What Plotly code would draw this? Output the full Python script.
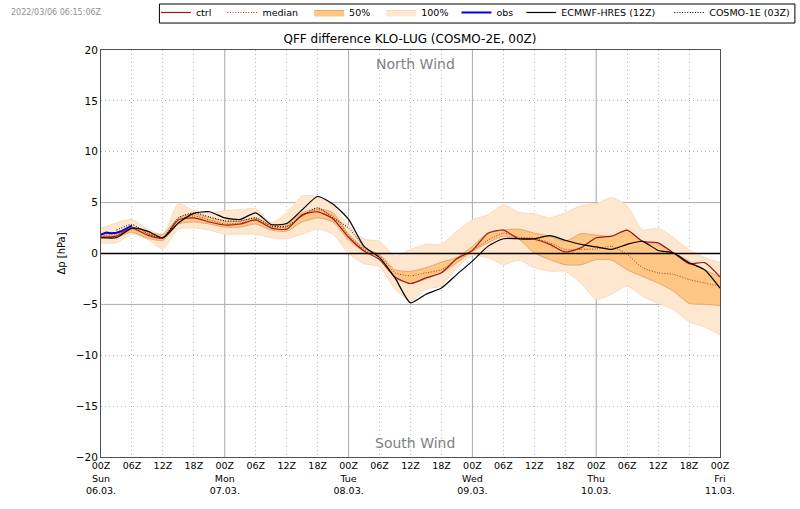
import pandas as pd
import plotly.graph_objects as go

# 3-hourly values, 06.03. 00Z to 11.03. 00Z
times = pd.date_range("2022-03-06", periods=41, freq="3h")

ctrl = [1.6, 1.7, 2.5, 1.8, 1.5, 3.3, 3.5, 3.1, 2.8, 2.9, 3.3, 2.5, 2.4, 3.8, 4.1, 3.4, 1.6,
        0.25, -0.6, -2.3, -2.95, -2.4, -1.9, -0.5, 0.3, 2.0, 2.3, 1.45, 1.4,
        0.9, 0.15, 0.55, 1.55, 1.7, 2.3, 1.2, 1.05, 0.05, -1.0, -0.9, -2.3]
median = [1.7, 1.9, 2.4, 1.9, 1.6, 3.3, 3.7, 3.3, 2.9, 3.0, 3.3, 2.6, 2.6, 3.7, 4.3, 3.7, 1.8,
          0.4, -0.2, -1.9, -2.2, -1.9, -1.6, -0.6, 0.3, 1.3, 2.0, 1.6, 1.5,
          1.05, 0.4, 0.4, 0.45, 0.7, -0.1, -1.4, -1.9, -2.05, -2.55, -2.9, -3.2]
q25 = [1.5, 1.6, 2.1, 1.5, 1.3, 2.9, 3.1, 2.9, 2.6, 2.6, 2.9, 2.3, 2.2, 3.1, 3.5, 3.1, 1.3,
       0.2, -0.4, -2.4, -2.95, -2.5, -1.9, -0.9, 0.2, 1.05, 1.7, 1.4, 0.05,
       -0.6, -1.1, -1.1, -0.6, -0.65, -1.6, -2.25, -2.9, -3.7, -4.9, -5.0, -5.1]
q75 = [1.8, 2.1, 2.6, 2.1, 1.9, 3.5, 3.9, 3.5, 3.2, 3.2, 3.5, 2.8, 2.9, 4.0, 4.4, 4.0, 1.9,
       0.55, -0.1, -1.6, -1.75, -1.4, -0.85, -0.4, 0.7, 2.0, 2.3, 2.4, 2.0,
       1.7, 1.2, 1.95, 1.8, 1.7, 2.3, 1.2, 0.9, 0.05, -0.75, -1.6, -2.3]
ens_min = [1.05, 1.05, 1.9, 1.4, 0.45, 2.4, 2.5, 2.3, 1.9, 1.9, 1.9, 1.55, 1.45, 1.9, 2.4, 1.9, 0.0,
           -1.0, -1.3, -3.5, -4.7, -3.5, -3.2, -1.4, -0.2, -0.4, -1.1, -0.65, -1.4,
           -1.75, -1.75, -2.9, -4.5, -4.0, -3.2, -4.2, -4.9, -5.5, -6.7, -7.2, -8.0]
ens_max = [2.5, 3.0, 3.35, 2.4, 1.9, 4.9, 4.2, 4.0, 4.2, 4.3, 4.4, 3.0, 4.0, 5.65, 5.6, 4.7, 2.7,
           1.4, 1.2, -0.25, 0.4, 0.9, 0.9, 2.2, 3.3, 3.8, 4.8, 4.05, 3.9,
           3.5, 4.0, 4.7, 4.9, 5.5, 4.65, 2.3, 2.5, 1.55, 0.4, -0.4, -0.9]
ecmwf = [1.55, 1.55, 2.5, 2.2, 1.55, 3.0, 3.95, 4.1, 3.5, 3.35, 4.0, 2.85, 2.95, 4.3, 5.6, 4.85, 3.35,
         0.7, -0.4, -2.4, -4.85, -4.0, -3.4, -2.05, -0.75, 0.7, 1.45, 1.45, 1.45,
         1.75, 1.3, 0.9, 0.65, 0.4, 0.9, 1.2, 0.3, 0.05, -0.9, -1.6, -3.4]
cosmo1e = [2.3, 2.85, 2.0, 1.55, 3.5, 4.0, 3.6, 3.2, 3.2, 3.5, 2.7, 2.7, 3.7, 4.5, 3.5, 2.5, 0.6]

obs_times = pd.date_range("2022-03-06", periods=7, freq="1h")
obs = [1.85, 2.05, 2.0, 2.05, 2.2, 2.45, 2.75]

tick_times = pd.date_range("2022-03-06", periods=21, freq="6h")
hours = ["00Z", "06Z", "12Z", "18Z"]
days = ["Sun", "Mon", "Tue", "Wed", "Thu", "Fri"]
dates = ["06.03.", "07.03.", "08.03.", "09.03.", "10.03.", "11.03."]
tick_text = []
for i in range(21):
    if i % 4 == 0:
        tick_text.append(hours[0] + "<br>" + days[i // 4] + "<br>" + dates[i // 4])
    else:
        tick_text.append(hours[i % 4])

FONT = "DejaVu Sans"
SMOOTH = dict(shape="spline", smoothing=0.6)
DOTS = "1px,1.6px"
GRID_DOTS = "1px,3px"
fig = go.Figure()

# bands first so the lines sit on top
fig.add_trace(go.Scatter(x=times, y=ens_min, mode="lines", line=dict(color="#f5dcc0", width=1, **SMOOTH),
                         showlegend=False, hoverinfo="skip"))
fig.add_trace(go.Scatter(x=times, y=ens_max, mode="lines", line=dict(color="#f5dcc0", width=1, **SMOOTH),
                         fill="tonexty", fillcolor="#ffe6cf", name="100%\u00a0", legendrank=4))
fig.add_trace(go.Scatter(x=times, y=q25, mode="lines", line=dict(color="#e0a870", width=1, **SMOOTH),
                         showlegend=False, hoverinfo="skip"))
fig.add_trace(go.Scatter(x=times, y=q75, mode="lines", line=dict(color="#e0a870", width=1, **SMOOTH),
                         fill="tonexty", fillcolor="#ffc684", name="50%\u00a0\u00a0", legendrank=3))

fig.add_trace(go.Scatter(x=times, y=ctrl, mode="lines", line=dict(color="#a01818", width=1.2, **SMOOTH),
                         name="ctrl\u00a0\u00a0", legendrank=1))
fig.add_trace(go.Scatter(x=times, y=median, mode="lines", line=dict(color="#c03020", width=1, dash=DOTS, **SMOOTH),
                         name="median\u00a0\u00a0", legendrank=2))
fig.add_trace(go.Scatter(x=times, y=ecmwf, mode="lines", line=dict(color="black", width=1.2, **SMOOTH),
                         name="ECMWF-HRES (12Z)\u00a0\u00a0\u00a0", legendrank=6))
fig.add_trace(go.Scatter(x=times[1:], y=cosmo1e, mode="lines", line=dict(color="black", width=1, dash=DOTS, **SMOOTH),
                         name="COSMO-1E (03Z)", legendrank=7))
fig.add_trace(go.Scatter(x=obs_times, y=obs, mode="lines", line=dict(color="#0000e0", width=2),
                         name="obs\u00a0", legendrank=5))

# reference lines
for d in tick_times[4:20:4]:
    fig.add_vline(x=d, line=dict(color="#a8a8a8", width=1), layer="below")
for v in [5, -5]:
    fig.add_hline(y=v, line=dict(color="#a8a8a8", width=1), layer="below")
fig.add_hline(y=0, line=dict(color="black", width=1.6))

# plotly's own legend box can't go this thin, so the frame is a shape
fig.add_shape(type="rect", xref="paper", yref="paper", x0=0.0944, x1=1.121, y0=1.0663, y1=1.113,
              line=dict(color="black", width=1), fillcolor="white", layer="below")

fig.add_annotation(text="North Wind", x=0.5077, y=20, xref="x domain", yref="y", yshift=-14, showarrow=False,
                   font=dict(family=FONT, size=14, color="#7f7f7f"))
fig.add_annotation(text="South Wind", x=0.5077, y=-20, xref="x domain", yref="y", yshift=14, showarrow=False,
                   font=dict(family=FONT, size=14, color="#7f7f7f"))
fig.add_annotation(text="2022/03/06 06:15:06Z", x=-0.149, y=1.093, xref="paper", yref="paper", showarrow=False,
                   xanchor="left", yanchor="middle", font=dict(family=FONT, size=8, color="#909090"))

fig.update_layout(
    width=800, height=509,
    margin=dict(l=100.5, r=80, t=50, b=52, autoexpand=False),
    paper_bgcolor="white", plot_bgcolor="white",
    font=dict(family=FONT, size=10, color="black"),
    title=dict(text="QFF difference KLO-LUG (COSMO-2E, 00Z)", x=0.5125, xanchor="center",
               y=0.923, yanchor="middle", font=dict(family=FONT, size=12, color="black")),
    legend=dict(orientation="h", x=1.121, xanchor="right", y=1.1278, yanchor="top",
                bgcolor="rgba(0,0,0,0)", borderwidth=0,
                font=dict(family=FONT, size=9.5), traceorder="normal"),
)
fig.update_xaxes(range=[times[0], times[-1]], tickmode="array", tickvals=tick_times, ticktext=tick_text,
                 tickangle=0, ticks="", showgrid=True, gridcolor="#b8b8b8", griddash=GRID_DOTS, gridwidth=1,
                 showline=True, mirror=True, linecolor="#505050", linewidth=1, zeroline=False,
                 tickfont=dict(size=9.5))
fig.update_yaxes(range=[-20, 20], tickmode="array", tickvals=[-20, -15, -10, -5, 0, 5, 10, 15, 20],
                 ticktext=["\u221220", "\u221215", "\u221210", "\u22125", "0", "5", "10", "15", "20"],
                 ticks="", showgrid=True, gridcolor="#b8b8b8", griddash=GRID_DOTS, gridwidth=1,
                 showline=True, mirror=True, linecolor="#505050", linewidth=1, zeroline=False,
                 title=dict(text="\u0394p [hPa]", standoff=8, font=dict(size=10)), tickfont=dict(size=10.5))

fig.write_html("out.html", config=dict(displayModeBar=False), post_script="document.body.style.margin='0';")
